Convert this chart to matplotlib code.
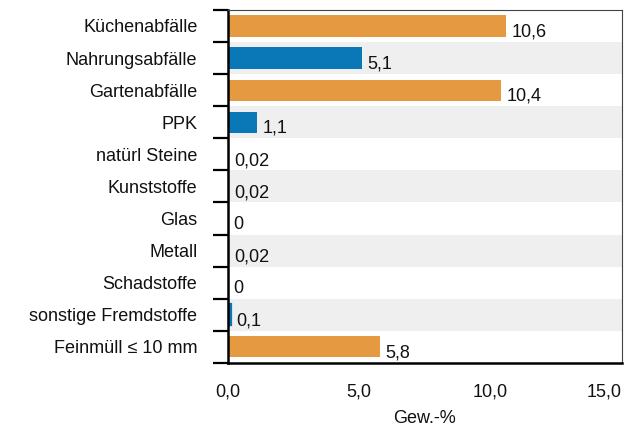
import matplotlib
matplotlib.use("Agg")
import matplotlib.pyplot as plt
from matplotlib.ticker import FuncFormatter, FixedLocator

categories = ["Küchenabfälle", "Nahrungsabfälle", "Gartenabfälle", "PPK", "natürl Steine",
              "Kunststoffe", "Glas", "Metall", "Schadstoffe", "sonstige Fremdstoffe",
              "Feinmüll ≤ 10 mm"]
values = [10.6, 5.1, 10.4, 1.1, 0.02, 0.02, 0, 0.02, 0, 0.1, 5.8]
value_labels = ["10,6", "5,1", "10,4", "1,1", "0,02", "0,02", "0", "0,02", "0", "0,1", "5,8"]
x_ticks = [0, 5, 10, 15]
x_label = "Gew.-%"

ORANGE = "#E59A41"
BLUE = "#0A78B6"
STRIPE = "#EFEFEF"
FS = 13

plt.rcParams["font.family"] = ["Liberation Sans", "DejaVu Sans"]
plt.rcParams["font.size"] = FS

fig = plt.figure(figsize=(6.35, 4.30), dpi=100)
ax = fig.add_axes([0.359, 0.156, 0.620, 0.821])

n = len(categories)
ypos = list(range(n))
colors = [ORANGE if i % 2 == 0 else BLUE for i in range(n)]

for i in range(n):
    if i % 2 == 1:
        ax.axhspan(i - 0.5, i + 0.5, color=STRIPE, lw=0, zorder=0)

lws = [1.6 if 0 < v < 0.5 else 0 for v in values]
ax.barh(ypos, values, height=0.66, color=colors, edgecolor=colors, linewidth=lws, zorder=2)

for y, v, lab in zip(ypos, values, value_labels):
    ax.annotate(lab, xy=(v, y), xytext=(4.0, -4.5), textcoords="offset points",
                ha="left", va="center", fontsize=FS, color="#111111", zorder=3)

ax.set_xlim(0, 15)
ax.set_ylim(n - 0.5, -0.5)

ax.xaxis.set_major_locator(FixedLocator(x_ticks))
ax.xaxis.set_major_formatter(FuncFormatter(lambda x, p: f"{x:.1f}".replace(".", ",")))
ax.tick_params(axis="x", length=0, pad=15, labelsize=FS, labelcolor="#111111")
ax.get_xticklabels()[-1].set_horizontalalignment("right")
ax.set_xlabel(x_label, fontsize=FS, labelpad=7, color="#111111")

ax.set_yticks([i - 0.5 for i in range(n + 1)])
ax.set_yticklabels([])
ax.tick_params(axis="y", which="major", length=11, width=1.6, color="black")
ax.set_yticks(ypos, minor=True)
ax.set_yticklabels(categories, minor=True)
ax.tick_params(axis="y", which="minor", length=0, pad=22, labelsize=FS, labelcolor="#111111")

for s in ["left", "bottom"]:
    ax.spines[s].set_linewidth(1.8)
    ax.spines[s].set_color("black")
for s in ["top", "right"]:
    ax.spines[s].set_linewidth(0.8)
    ax.spines[s].set_color("#444444")

fig.savefig("out.png", dpi=100)
